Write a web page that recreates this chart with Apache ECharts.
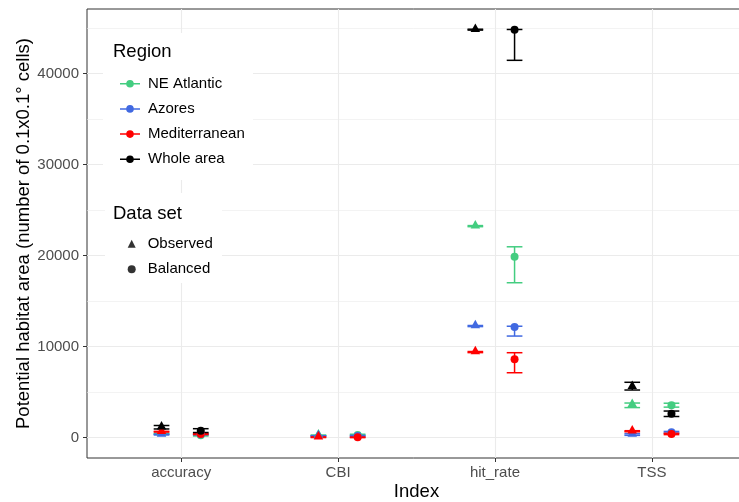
<!DOCTYPE html>
<html><head><meta charset="utf-8">
<script src="https://cdn.jsdelivr.net/npm/echarts@6/dist/echarts.min.js"></script>
<style>html,body{margin:0;padding:0;background:#fff}#c{width:739px;height:502px}</style>
</head><body><div id="c"></div><script>
// ---------------- data ----------------
const categories = ['accuracy', 'CBI', 'hit_rate', 'TSS'];
const regions = ['NE Atlantic', 'Azores', 'Mediterranean', 'Whole area'];
const datasets = ['Observed', 'Balanced'];
const yTicks = [0, 10000, 20000, 30000, 40000];
const yMinorTicks = [5000, 15000, 25000, 35000, 45000];

// Observed data set (mean, lower, upper) per index
const obsNEAtlanticMean = [420, 250, 23240, 3600];
const obsNEAtlanticLow  = [380, 220, 23180, 3300];
const obsNEAtlanticHigh = [460, 280, 23300, 3800];
const obsAzoresMean = [330, 180, 12260, 330];
const obsAzoresLow  = [290, 150, 12200, 250];
const obsAzoresHigh = [370, 210, 12320, 420];
const obsMediterraneanMean = [650, 40, 9400, 700];
const obsMediterraneanLow  = [610, 10, 9340, 640];
const obsMediterraneanHigh = [690, 70, 9460, 760];
const obsWholeMean = [1150, null, 44830, 5600];
const obsWholeLow  = [950, null, 44780, 5230];
const obsWholeHigh = [1330, null, 44880, 6080];

// Balanced data set (mean, lower, upper) per index
const balNEAtlanticMean = [260, 300, 19870, 3550];
const balNEAtlanticLow  = [180, 230, 17020, 3350];
const balNEAtlanticHigh = [340, 370, 20970, 3780];
const balAzoresMean = [360, 180, 12150, 590];
const balAzoresLow  = [300, 120, 11160, 500];
const balAzoresHigh = [420, 240, 12240, 680];
const balMediterraneanMean = [400, 30, 8600, 400];
const balMediterraneanLow  = [340, 0, 7130, 330];
const balMediterraneanHigh = [460, 60, 9330, 470];
const balWholeMean = [750, null, 44820, 2620];
const balWholeLow  = [560, null, 41460, 2320];
const balWholeHigh = [980, null, 44850, 2920];

// ---------------- styling / assembly ----------------
const FONT = "'Liberation Sans', Arial, Helvetica, sans-serif";
const regionColors = ['#43CD80', '#4169E1', '#FF0000', '#000000'];
const DODGE = 0.125;      // position_dodge half-offset (category units)
const EB_HALF = 0.05;     // half error-bar width (category units)

const obs = [
  [obsNEAtlanticMean, obsNEAtlanticLow, obsNEAtlanticHigh],
  [obsAzoresMean, obsAzoresLow, obsAzoresHigh],
  [obsMediterraneanMean, obsMediterraneanLow, obsMediterraneanHigh],
  [obsWholeMean, obsWholeLow, obsWholeHigh]
];
const bal = [
  [balNEAtlanticMean, balNEAtlanticLow, balNEAtlanticHigh],
  [balAzoresMean, balAzoresLow, balAzoresHigh],
  [balMediterraneanMean, balMediterraneanLow, balMediterraneanHigh],
  [balWholeMean, balWholeLow, balWholeHigh]
];

function ebRender(color) {
  return function (params, api) {
    const x = api.value(0), lo = api.value(1), hi = api.value(2);
    const pLo = api.coord([x, lo]);
    const pHi = api.coord([x, hi]);
    const half = api.coord([x + EB_HALF, lo])[0] - pLo[0];
    const st = { stroke: color, lineWidth: 1.5 };
    return {
      type: 'group',
      children: [
        { type: 'line', shape: { x1: pLo[0], y1: pHi[1], x2: pLo[0], y2: pLo[1] }, style: st },
        { type: 'line', shape: { x1: pLo[0] - half, y1: pHi[1], x2: pLo[0] + half, y2: pHi[1] }, style: st },
        { type: 'line', shape: { x1: pLo[0] - half, y1: pLo[1], x2: pLo[0] + half, y2: pLo[1] }, style: st }
      ]
    };
  };
}

function pts(arr, off) {
  const out = [];
  arr[0].forEach(function (v, i) { if (v != null) out.push([i + off, v]); });
  return out;
}
function bars(arr, off) {
  const out = [];
  arr[0].forEach(function (v, i) { if (v != null) out.push([i + off, arr[1][i], arr[2][i]]); });
  return out;
}

const series = [];
// minor gridlines carrier
series.push({
  type: 'scatter', name: '_minor', data: [], z: 1, silent: true,
  markLine: {
    silent: true, symbol: 'none', z: 1, animation: false,
    label: { show: false },
    lineStyle: { color: '#ebebeb', width: 0.6, type: 'solid' },
    emphasis: { disabled: true },
    data: yMinorTicks.map(function (v) { return { yAxis: v }; })
  }
});
// error bars (layer 1)
[[obs, -DODGE], [bal, DODGE]].forEach(function (pair) {
  pair[0].forEach(function (arr, r) {
    series.push({
      type: 'custom', name: regions[r], z: 2, silent: true,
      itemStyle: { color: regionColors[r] },
      renderItem: ebRender(regionColors[r]),
      encode: { x: 0, y: [1, 2] },
      data: bars(arr, pair[1])
    });
  });
});
// points (layer 2)
obs.forEach(function (arr, r) {
  series.push({
    type: 'scatter', name: regions[r], z: 3, silent: true,
    symbol: 'triangle', symbolSize: [9.5, 8.5], symbolOffset: [0, -2],
    itemStyle: { color: regionColors[r], opacity: 1 },
    data: pts(arr, -DODGE)
  });
});
bal.forEach(function (arr, r) {
  series.push({
    type: 'scatter', name: regions[r], z: 3, silent: true,
    symbol: 'circle', symbolSize: 8,
    itemStyle: { color: regionColors[r], opacity: 1 },
    data: pts(arr, DODGE)
  });
});
// legend carriers for data set
series.push({ type: 'scatter', name: datasets[0], data: [], symbol: 'triangle', itemStyle: { color: '#000' } });
series.push({ type: 'scatter', name: datasets[1], data: [], symbol: 'circle', itemStyle: { color: '#000' } });

const lineDotIcon = 'path://M0,3.25 L6.3,3.25 L6.3,4.75 L0,4.75 Z M13.7,3.25 L20,3.25 L20,4.75 L13.7,4.75 Z M6.2,4 A3.8,3.8 0 1,1 13.8,4 A3.8,3.8 0 1,1 6.2,4 Z';

const option = {
  animation: false,
  backgroundColor: '#ffffff',
  textStyle: { fontFamily: FONT },
  grid: {
    left: 87, right: -7, top: 9, bottom: 44,
    outerBoundsMode: 'none',
    show: true, backgroundColor: '#ffffff', borderColor: '#333333', borderWidth: 1,
    containLabel: false
  },
  xAxis: {
    type: 'value', min: -0.6, max: 3.6,
    name: 'Index', nameLocation: 'middle', nameGap: 24, nameMoveOverlap: false,
    nameTextStyle: { fontSize: 18.5, color: '#000', fontFamily: FONT },
    axisLine: { show: false, onZero: false },
    axisTick: { show: true, length: 4, lineStyle: { color: '#333333', width: 1 }, customValues: [0, 1, 2, 3] },
    axisLabel: {
      show: true, margin: 7, fontSize: 15, color: '#4d4d4d', fontFamily: FONT,
      customValues: [0, 1, 2, 3],
      formatter: function (v) { return categories[Math.round(v)]; }
    },
    splitLine: { show: true, lineStyle: { color: '#ebebeb', width: 1.1 } },
    minorSplitLine: { show: false }
  },
  yAxis: {
    type: 'value', min: -2240, max: 47100,
    name: 'Potential habitat area (number of 0.1x0.1° cells)',
    nameLocation: 'middle', nameGap: 54, nameMoveOverlap: false,
    nameTextStyle: { fontSize: 18.5, color: '#000', fontFamily: FONT },
    axisLine: { show: false, onZero: false },
    axisTick: { show: true, length: 4, lineStyle: { color: '#333333', width: 1 }, customValues: yTicks },
    axisLabel: {
      show: true, margin: 8, fontSize: 15, color: '#4d4d4d', fontFamily: FONT,
      customValues: yTicks,
      formatter: function (v) { return String(Math.round(v)); }
    },
    splitLine: { show: true, lineStyle: { color: '#ebebeb', width: 1.1 } }
  },
  legend: [
    {
      orient: 'vertical', left: 115, top: 70.7,
      itemWidth: 20, itemHeight: 8, itemGap: 9.2,
      selectedMode: false,
      data: regions.map(function (n) { return { name: n, icon: lineDotIcon }; }),
      itemStyle: { borderWidth: 0 },
      textStyle: { fontSize: 15, color: '#000', fontFamily: FONT, lineHeight: 16, padding: [0, 0, 0, 3] }
    },
    {
      orient: 'vertical', left: 122.7, top: 230.7,
      itemWidth: 8, itemHeight: 8, itemGap: 9.6,
      selectedMode: false,
      data: [{ name: datasets[0], icon: 'triangle' }, { name: datasets[1], icon: 'circle' }],
      itemStyle: { borderWidth: 0 },
      textStyle: { fontSize: 15, color: '#000', fontFamily: FONT, lineHeight: 16, padding: [0, 0, 0, 7] }
    }
  ],
  graphic: [
    { type: 'rect', z: 3, silent: true, shape: { x: 103, y: 33, width: 150, height: 147 }, style: { fill: '#ffffff' } },
    { type: 'rect', z: 3, silent: true, shape: { x: 105, y: 193, width: 117, height: 90 }, style: { fill: '#ffffff' } },
    { type: 'text', z: 5, silent: true, x: 113, y: 52, style: { text: 'Region', fontSize: 18.5, fill: '#000', fontFamily: FONT, verticalAlign: 'middle', align: 'left' } },
    { type: 'text', z: 5, silent: true, x: 113, y: 214, style: { text: 'Data set', fontSize: 18.5, fill: '#000', fontFamily: FONT, verticalAlign: 'middle', align: 'left' } }
  ],
  series: series
};

const chart = echarts.init(document.getElementById('c'), null, { renderer: 'canvas' });
chart.setOption(option);
</script></body></html>
